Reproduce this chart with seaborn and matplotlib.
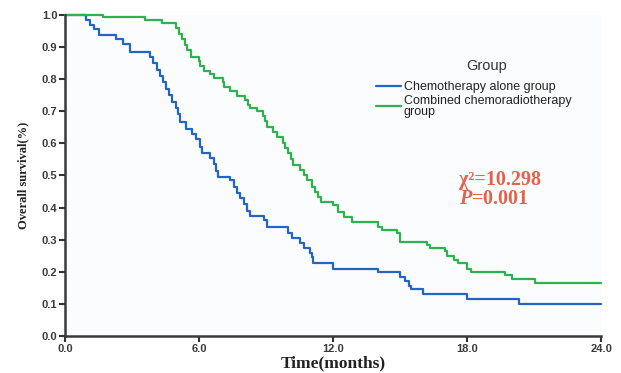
import pandas as pd
import numpy as np
import matplotlib
matplotlib.use("Agg")
import matplotlib.pyplot as plt
import seaborn as sns

# ==========================================
# Kaplan-Meier step points
# ==========================================
chemo_time = [0, 0.95, 1.1, 1.3, 1.5, 2.3, 2.6, 2.9, 3.8, 3.95, 4.1, 4.25, 4.4, 4.5,
              4.65, 4.8, 4.95, 5.05, 5.15, 5.4, 5.7, 5.85, 6.05, 6.15, 6.5, 6.65, 6.75,
              6.85, 7.4, 7.55, 7.7, 7.85, 8.0, 8.15, 8.3, 8.9, 9.05, 10.0, 10.15, 10.5,
              10.7, 10.95, 11.05, 11.1, 12.0, 14.0, 15.0, 15.2, 15.4, 15.5, 16.0, 18.0,
              20.3, 24.0]
chemo_surv = [1.0, 0.985, 0.97, 0.955, 0.937, 0.925, 0.91, 0.885, 0.87, 0.85, 0.83, 0.81,
              0.79, 0.77, 0.75, 0.73, 0.71, 0.69, 0.665, 0.645, 0.63, 0.615, 0.59, 0.57,
              0.555, 0.535, 0.515, 0.495, 0.485, 0.465, 0.445, 0.43, 0.41, 0.39, 0.375,
              0.36, 0.34, 0.32, 0.305, 0.29, 0.275, 0.26, 0.245, 0.228, 0.21, 0.20, 0.185,
              0.17, 0.155, 0.145, 0.13, 0.115, 0.10, 0.10]

combo_time = [0, 1.7, 3.6, 4.35, 4.95, 5.1, 5.25, 5.35, 5.45, 5.65, 6.0, 6.05, 6.2, 6.5,
              6.65, 7.05, 7.1, 7.4, 7.7, 8.05, 8.2, 8.3, 8.6, 8.85, 8.95, 9.05, 9.3, 9.5,
              9.75, 9.85, 10.0, 10.1, 10.2, 10.5, 10.7, 10.85, 11.05, 11.2, 11.3, 11.45,
              12.0, 12.2, 12.5, 12.85, 14.0, 14.2, 14.85, 15.0, 16.2, 16.35, 17.0, 17.1,
              17.4, 17.6, 18.0, 18.15, 19.7, 20.0, 21.05, 24.0]
combo_surv = [1.0, 0.993, 0.985, 0.975, 0.96, 0.94, 0.925, 0.905, 0.89, 0.87, 0.855, 0.84,
              0.825, 0.815, 0.805, 0.79, 0.775, 0.762, 0.746, 0.735, 0.72, 0.71, 0.70,
              0.685, 0.67, 0.65, 0.635, 0.62, 0.60, 0.585, 0.57, 0.55, 0.533, 0.518, 0.50,
              0.486, 0.465, 0.45, 0.434, 0.418, 0.408, 0.386, 0.37, 0.355, 0.34, 0.33,
              0.32, 0.293, 0.283, 0.274, 0.266, 0.25, 0.237, 0.227, 0.21, 0.20, 0.19,
              0.177, 0.165, 0.165]

group_names = ["Chemotherapy alone group", "Combined chemoradiotherapy\ngroup"]
group_colors = ["#2563c4", "#2db24e"]
x_ticks = [0, 6, 12, 18, 24]
y_ticks = [0.0, 0.1, 0.2, 0.3, 0.4, 0.5, 0.6, 0.7, 0.8, 0.9, 1.0]

df = pd.concat([
    pd.DataFrame({"time": chemo_time, "surv": chemo_surv, "group": group_names[0]}),
    pd.DataFrame({"time": combo_time, "surv": combo_surv, "group": group_names[1]}),
], ignore_index=True)

# ==========================================
# Plot
# ==========================================
sns.set_theme(style="white")
plt.rcParams["font.family"] = ["Liberation Sans", "DejaVu Sans"]
plt.rcParams["mathtext.fontset"] = "custom"
plt.rcParams["mathtext.it"] = "Liberation Serif:italic:bold"
plt.rcParams["mathtext.rm"] = "Liberation Serif:bold"

fig = plt.figure(figsize=(6.21, 3.73), dpi=100)
fig.patch.set_facecolor("white")
ax = fig.add_axes([0.1047, 0.0992, 0.8636, 0.8608])
ax.set_facecolor("#fbfcfe")

sns.lineplot(data=df, x="time", y="surv", hue="group", hue_order=group_names,
             palette=group_colors, estimator=None, drawstyle="steps-post",
             linewidth=1.6, ax=ax, legend=True)
for ln in ax.get_lines():
    ln.set_clip_on(False)

ax.set_xlim(0, 24)
ax.set_ylim(0, 1.0)
ax.set_xticks(x_ticks)
ax.set_xticklabels([f"{t:.1f}" for t in x_ticks])
ax.set_yticks(y_ticks)
ax.set_yticklabels([f"{t:.1f}" for t in y_ticks])
ax.tick_params(axis="both", direction="out", length=4, width=1.5, color="#333333",
               labelsize=8, labelcolor="#3a3a3a", pad=1.5, bottom=True, left=True)
for lab in ax.get_xticklabels() + ax.get_yticklabels():
    lab.set_fontweight("bold")
    lab.set_family("Liberation Sans")

sns.despine(ax=ax)
for side in ["left", "bottom"]:
    ax.spines[side].set_linewidth(1.8)
    ax.spines[side].set_color("#3a3a3a")

ax.set_xlabel("Time(months)", family="Liberation Serif", fontweight="bold",
              fontsize=12.5, color="#222222", labelpad=1)
ax.set_ylabel("Overall survival(%)", family="Liberation Serif", fontweight="bold",
              fontsize=9, color="#222222", labelpad=9)

# legend without built-in title; "Group" placed above the entries
handles, labels = ax.get_legend_handles_labels()
leg = ax.legend(handles, labels, loc="upper left",
                bbox_to_anchor=(0.57, 0.81), frameon=False, fontsize=9,
                handlelength=2.0, handletextpad=0.25,
                labelspacing=0.15, borderaxespad=0)
for txt in leg.get_texts():
    txt.set_color("#222222")
    txt.set_linespacing(0.9)
ax.text(0.787, 0.841, "Group", transform=ax.transAxes, ha="center", va="center",
        fontsize=10.5, color="#333333")

ax.text(0.735, 0.471, "\u03c7\u00b2=10.298", transform=ax.transAxes, color="#e5614a",
        fontsize=14.5, family="Liberation Serif", fontweight="bold")
ax.text(0.735, 0.411, r"$P$=0.001", transform=ax.transAxes, color="#e5614a",
        fontsize=14.5, family="Liberation Serif", fontweight="bold")

fig.savefig("out.png", dpi=100)
